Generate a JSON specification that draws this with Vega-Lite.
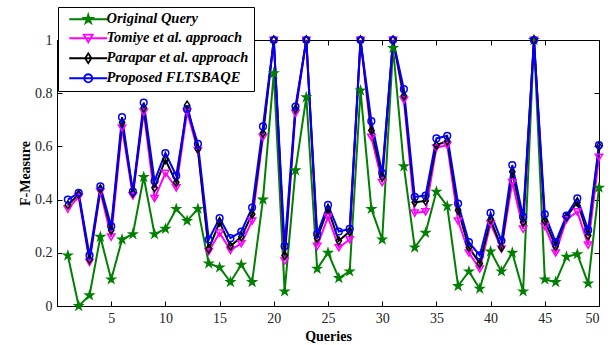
{
  "$schema": "https://vega.github.io/schema/vega-lite/v6.json",
  "width": 542,
  "height": 266,
  "autosize": {"type": "none"},
  "padding": {"left": 57, "top": 40, "right": 15, "bottom": 39},
  "background": "white",
  "config": {
    "view": {"stroke": "black", "strokeWidth": 1},
    "font": "Liberation Serif",
    "axis": {
      "grid": false,
      "domainColor": "black",
      "tickColor": "black",
      "tickSize": -5,
      "labelFont": "Liberation Serif",
      "labelFontSize": 14,
      "labelColor": "#222",
      "titleFont": "Liberation Serif",
      "titleFontSize": 14,
      "titleFontWeight": "bold",
      "titleColor": "black"
    },
    "legend": {
      "orient": "none",
      "legendX": 1,
      "legendY": -33,
      "padding": 5,
      "rowPadding": 3,
      "symbolSize": 80,
      "symbolStrokeWidth": 1.8,
      "symbolOpacity": 1,
      "symbolOffset": 18,
      "labelOffset": 11,
      "strokeColor": "black",
      "fillColor": "white",
      "labelFont": "Liberation Serif",
      "labelFontSize": 14.5,
      "labelFontStyle": "italic",
      "labelFontWeight": "bold",
      "labelColor": "black",
      "labelLimit": 300
    }
  },
  "data": {
    "values": [
      {"q":1,"orig":0.19,"tom":0.365,"par":0.38,"prop":0.40},
      {"q":2,"orig":0.0,"tom":0.41,"par":0.42,"prop":0.425},
      {"q":3,"orig":0.04,"tom":0.165,"par":0.175,"prop":0.19},
      {"q":4,"orig":0.26,"tom":0.43,"par":0.44,"prop":0.45},
      {"q":5,"orig":0.10,"tom":0.26,"par":0.285,"prop":0.30},
      {"q":6,"orig":0.25,"tom":0.67,"par":0.69,"prop":0.71},
      {"q":7,"orig":0.27,"tom":0.415,"par":0.425,"prop":0.43},
      {"q":8,"orig":0.485,"tom":0.73,"par":0.745,"prop":0.765},
      {"q":9,"orig":0.27,"tom":0.405,"par":0.445,"prop":0.47},
      {"q":10,"orig":0.29,"tom":0.50,"par":0.55,"prop":0.575},
      {"q":11,"orig":0.365,"tom":0.445,"par":0.465,"prop":0.49},
      {"q":12,"orig":0.32,"tom":0.73,"par":0.755,"prop":0.74},
      {"q":13,"orig":0.365,"tom":0.585,"par":0.59,"prop":0.61},
      {"q":14,"orig":0.16,"tom":0.205,"par":0.215,"prop":0.25},
      {"q":15,"orig":0.145,"tom":0.275,"par":0.315,"prop":0.33},
      {"q":16,"orig":0.09,"tom":0.21,"par":0.225,"prop":0.255},
      {"q":17,"orig":0.155,"tom":0.235,"par":0.26,"prop":0.28},
      {"q":18,"orig":0.09,"tom":0.32,"par":0.345,"prop":0.37},
      {"q":19,"orig":0.40,"tom":0.635,"par":0.65,"prop":0.675},
      {"q":20,"orig":0.875,"tom":1.0,"par":1.0,"prop":1.0},
      {"q":21,"orig":0.055,"tom":0.17,"par":0.19,"prop":0.225},
      {"q":22,"orig":0.51,"tom":0.725,"par":0.74,"prop":0.75},
      {"q":23,"orig":0.785,"tom":1.0,"par":1.0,"prop":1.0},
      {"q":24,"orig":0.14,"tom":0.225,"par":0.255,"prop":0.27},
      {"q":25,"orig":0.20,"tom":0.335,"par":0.365,"prop":0.38},
      {"q":26,"orig":0.105,"tom":0.22,"par":0.245,"prop":0.28},
      {"q":27,"orig":0.13,"tom":0.25,"par":0.28,"prop":0.29},
      {"q":28,"orig":0.81,"tom":1.0,"par":1.0,"prop":1.0},
      {"q":29,"orig":0.365,"tom":0.635,"par":0.66,"prop":0.695},
      {"q":30,"orig":0.25,"tom":0.465,"par":0.485,"prop":0.50},
      {"q":31,"orig":0.97,"tom":1.0,"par":1.0,"prop":1.0},
      {"q":32,"orig":0.525,"tom":0.775,"par":0.79,"prop":0.815},
      {"q":33,"orig":0.22,"tom":0.35,"par":0.39,"prop":0.41},
      {"q":34,"orig":0.275,"tom":0.355,"par":0.395,"prop":0.415},
      {"q":35,"orig":0.43,"tom":0.595,"par":0.605,"prop":0.63},
      {"q":36,"orig":0.375,"tom":0.605,"par":0.62,"prop":0.64},
      {"q":37,"orig":0.075,"tom":0.32,"par":0.36,"prop":0.385},
      {"q":38,"orig":0.13,"tom":0.20,"par":0.22,"prop":0.24},
      {"q":39,"orig":0.065,"tom":0.14,"par":0.16,"prop":0.19},
      {"q":40,"orig":0.205,"tom":0.31,"par":0.325,"prop":0.35},
      {"q":41,"orig":0.13,"tom":0.215,"par":0.22,"prop":0.245},
      {"q":42,"orig":0.20,"tom":0.465,"par":0.505,"prop":0.53},
      {"q":43,"orig":0.055,"tom":0.29,"par":0.315,"prop":0.335},
      {"q":44,"orig":1.0,"tom":1.0,"par":1.0,"prop":1.0},
      {"q":45,"orig":0.10,"tom":0.30,"par":0.32,"prop":0.345},
      {"q":46,"orig":0.09,"tom":0.20,"par":0.225,"prop":0.24},
      {"q":47,"orig":0.185,"tom":0.325,"par":0.335,"prop":0.34},
      {"q":48,"orig":0.195,"tom":0.355,"par":0.39,"prop":0.405},
      {"q":49,"orig":0.085,"tom":0.23,"par":0.265,"prop":0.285},
      {"q":50,"orig":0.445,"tom":0.56,"par":0.60,"prop":0.605}
    ]
  },
  "transform": [
    {"fold": ["orig", "tom", "par", "prop"], "as": ["s", "v"]}
  ],
  "layer": [
    {
      "mark": {"type": "line", "strokeWidth": 2},
      "encoding": {
        "x": {
          "field": "q", "type": "quantitative",
          "scale": {"domain": [0, 50], "nice": false, "zero": false},
          "axis": {"values": [5,10,15,20,25,30,35,40,45,50], "title": "Queries", "labelPadding": 10, "titlePadding": 4}
        },
        "y": {
          "field": "v", "type": "quantitative",
          "scale": {"domain": [0, 1], "nice": false},
          "axis": {"values": [0,0.2,0.4,0.6,0.8,1], "format": "~g", "title": "F-Measure", "labelPadding": 10, "titlePadding": 2}
        },
        "stroke": {
          "field": "s", "type": "nominal",
          "scale": {"domain": ["orig", "tom", "par", "prop"], "range": ["#008000", "#ff00ff", "#000000", "#0000ff"]},
          "legend": null
        }
      }
    },
    {
      "mark": {"type": "point", "size": 45, "strokeWidth": 1.5, "opacity": 1, "filled": false},
      "encoding": {
        "x": {
          "field": "q", "type": "quantitative",
          "scale": {"domain": [0, 50], "nice": false, "zero": false},
          "axis": {"orient": "top", "values": [5,10,15,20,25,30,35,40,45,50], "labels": false, "title": null, "domain": false}
        },
        "y": {
          "field": "v", "type": "quantitative",
          "scale": {"domain": [0, 1], "nice": false},
          "axis": {"orient": "right", "values": [0,0.2,0.4,0.6,0.8,1], "labels": false, "title": null, "domain": false}
        },
        "stroke": {
          "field": "s", "type": "nominal",
          "scale": {"domain": ["orig", "tom", "par", "prop"], "range": ["#008000", "#ff00ff", "#000000", "#0000ff"]},
          "legend": null
        },
        "fill": {
          "field": "s", "type": "nominal",
          "scale": {"domain": ["orig", "tom", "par", "prop"], "range": ["#008000", "transparent", "transparent", "transparent"]},
          "legend": null
        },
        "shape": {
          "field": "s", "type": "nominal",
          "scale": {"domain": ["orig", "tom", "par", "prop"], "range": [
            "M0,-1.2L0.27,-0.37L1.14,-0.37L0.44,0.14L0.71,0.97L0,0.46L-0.71,0.97L-0.44,0.14L-1.14,-0.37L-0.27,-0.37Z",
            "M-1.1,-0.85L1.1,-0.85L0,1Z",
            "M0,-1.2L0.8,0L0,1.2L-0.8,0Z",
            "circle"
          ]},
          "legend": null
        }
      }
    },
    {
      "mark": {"type": "point", "opacity": 0, "filled": false},
      "encoding": {
        "x": {"field": "q", "type": "quantitative", "scale": {"domain": [0, 50], "nice": false, "zero": false}, "axis": null},
        "y": {"field": "v", "type": "quantitative", "scale": {"domain": [0, 1], "nice": false}, "axis": null},
        "stroke": {
          "field": "s", "type": "nominal",
          "scale": {"domain": ["orig", "tom", "par", "prop"], "range": ["#008000", "#ff00ff", "#000000", "#0000ff"]},
          "legend": {
            "title": null,
            "symbolOpacity": 1,
            "labelExpr": "{'orig': 'Original Query', 'tom': 'Tomiye et al. approach', 'par': 'Parapar et al. approach', 'prop': 'Proposed FLTSBAQE'}[datum.value]"
          }
        },
        "fill": {
          "field": "s", "type": "nominal",
          "scale": {"domain": ["orig", "tom", "par", "prop"], "range": ["#008000", "transparent", "transparent", "transparent"]},
          "legend": {
            "title": null,
            "symbolOpacity": 1,
            "labelExpr": "{'orig': 'Original Query', 'tom': 'Tomiye et al. approach', 'par': 'Parapar et al. approach', 'prop': 'Proposed FLTSBAQE'}[datum.value]"
          }
        },
        "shape": {
          "field": "s", "type": "nominal",
          "scale": {"domain": ["orig", "tom", "par", "prop"], "range": [
            "M-4.25,0L4.25,0M0,-1L0.2245,-0.309L0.951,-0.309L0.363,0.118L0.588,0.809L0,0.382L-0.588,0.809L-0.363,0.118L-0.951,-0.309L-0.2245,-0.309Z",
            "M-4.25,0L4.25,0M-1,-0.8L1,-0.8L0,0.9Z",
            "M-4.25,0L4.25,0M0,-1.1L0.7,0L0,1.1L-0.7,0Z",
            "M-4.25,0L4.25,0M0.9,0A0.9,0.9,0,1,1,-0.9,0A0.9,0.9,0,1,1,0.9,0Z"
          ]},
          "legend": {
            "title": null,
            "symbolOpacity": 1,
            "labelExpr": "{'orig': 'Original Query', 'tom': 'Tomiye et al. approach', 'par': 'Parapar et al. approach', 'prop': 'Proposed FLTSBAQE'}[datum.value]"
          }
        }
      }
    }
  ],
  "resolve": {
    "axis": {"x": "independent", "y": "independent"},
    "scale": {"stroke": "independent", "fill": "independent", "shape": "independent"}
  }
}
